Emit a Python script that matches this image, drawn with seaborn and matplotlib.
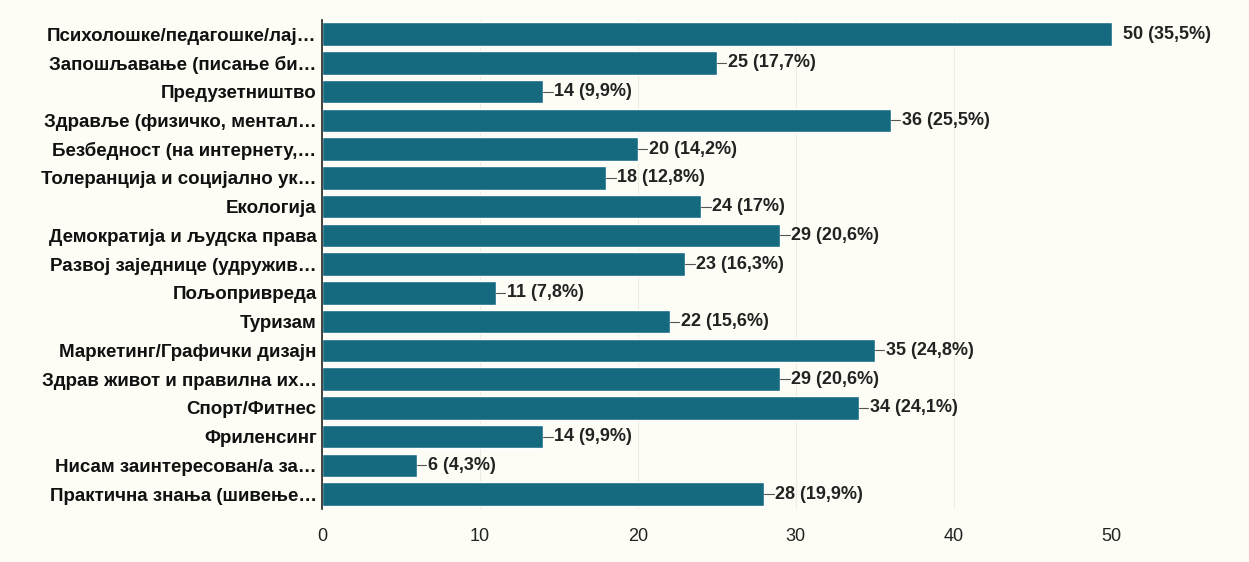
import matplotlib
matplotlib.use('Agg')
import matplotlib.pyplot as plt
import seaborn as sns
import pandas as pd

# categories and answer counts
categories = [
    'Психолошке/педагошке/лај…',
    'Запошљавање (писање би…',
    'Предузетништво',
    'Здравље (физичко, ментал…',
    'Безбедност (на интернету,…',
    'Толеранција и социјално ук…',
    'Екологија',
    'Демократија и људска права',
    'Развој заједнице (удружив…',
    'Пољопривреда',
    'Туризам',
    'Маркетинг/Графички дизајн',
    'Здрав живот и правилна их…',
    'Спорт/Фитнес',
    'Фриленсинг',
    'Нисам заинтересован/а за…',
    'Практична знања (шивење…',
]
counts = [50, 25, 14, 36, 20, 18, 24, 29, 23, 11, 22, 35, 29, 34, 14, 6, 28]
percents = ['35,5%', '17,7%', '9,9%', '25,5%', '14,2%', '12,8%', '17%', '20,6%',
            '16,3%', '7,8%', '15,6%', '24,8%', '20,6%', '24,1%', '9,9%', '4,3%', '19,9%']
x_ticks = [0, 10, 20, 30, 40, 50]

df = pd.DataFrame({'category': categories, 'count': counts})

sns.set_theme(style='white')
plt.rcParams['font.family'] = ['Liberation Sans', 'DejaVu Sans']

bar_color = '#156a80'
fig = plt.figure(figsize=(12.49, 5.62), dpi=100)
fig.patch.set_facecolor('#fdfdf6')
ax = fig.add_axes([0.258, 0.095, 0.632, 0.87])
ax.set_facecolor('#fdfdf6')

sns.barplot(data=df, x='count', y='category', color=bar_color, saturation=1,
            width=0.82, ax=ax, orient='h')

# value labels with a short leader line, like Google Forms
for i, (c, p) in enumerate(zip(counts, percents)):
    ax.plot([c, c + 0.6], [i, i], color='#555555', lw=0.8)
    ax.text(c + 0.7, i, f'{c} ({p})', va='center', ha='left', fontsize=13,
            fontweight='bold', color='#222222', clip_on=False)

ax.set_xlim(0, 50)
ax.set_ylim(len(categories) - 0.5, -0.5)
ax.set_xticks(x_ticks)
ax.set_xticklabels([str(t) for t in x_ticks], fontsize=13, color='#222222')
ax.tick_params(axis='x', length=0, pad=14)
ax.tick_params(axis='y', length=0, pad=4)
for lbl in ax.get_yticklabels():
    lbl.set_fontsize(13.5)
    lbl.set_fontweight('bold')
    lbl.set_color('#111111')
ax.xaxis.grid(True, color='#ececE4', lw=0.8)
ax.set_axisbelow(True)
ax.set_xlabel('')
ax.set_ylabel('')
for s in ['top', 'right', 'bottom']:
    ax.spines[s].set_visible(False)
ax.spines['left'].set_color('#222222')
ax.spines['left'].set_linewidth(1.2)

fig.savefig('out.png', dpi=100, facecolor=fig.get_facecolor())
